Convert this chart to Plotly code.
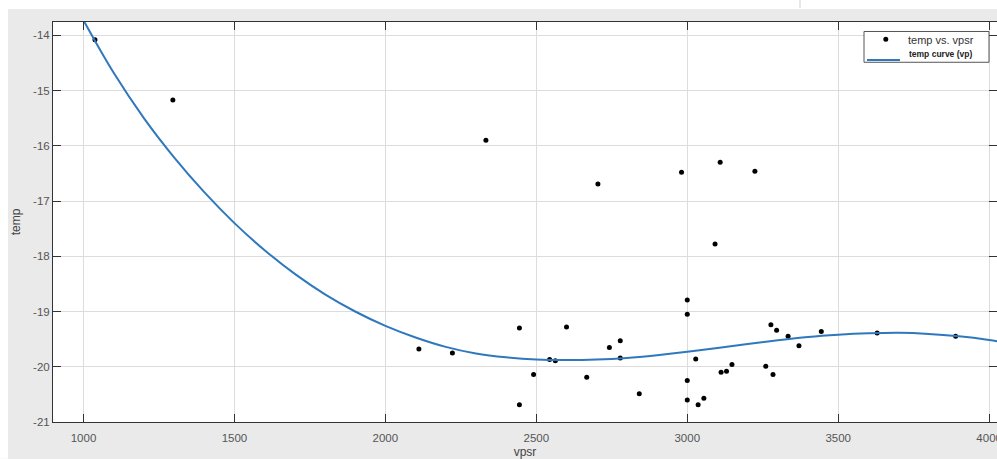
import plotly.graph_objects as go

# scatter data: temp vs. vpsr
vpsr = [1038, 1296, 2111, 2222, 2333, 2444, 2444, 2491, 2544, 2563, 2600, 2667, 2704, 2742,
        2778, 2778, 2841, 2981, 3000, 3000, 3000, 3000, 3028, 3036, 3055, 3092, 3109, 3112,
        3130, 3148, 3224, 3260, 3277, 3284, 3296, 3334, 3370, 3444, 3629, 3889]
temp = [-14.08, -15.17, -19.68, -19.75, -15.90, -19.30, -20.69, -20.14, -19.87, -19.89, -19.28,
        -20.19, -16.69, -19.65, -19.53, -19.84, -20.49, -16.48, -18.79, -19.05, -20.25, -20.60,
        -19.86, -20.69, -20.57, -17.78, -16.30, -20.10, -20.08, -19.96, -16.46, -19.99, -19.24,
        -20.14, -19.34, -19.45, -19.62, -19.36, -19.39, -19.45]

# fitted curve (temp curve (vp))
curve_x = [1000, 1100, 1200, 1300, 1400, 1500, 1600, 1700, 1800, 1900, 2000, 2100, 2200,
           2300, 2400, 2500, 2600, 2700, 2800, 2900, 3000, 3100, 3200, 3300, 3400, 3500,
           3600, 3700, 3800, 3900, 4000, 4030]
curve_y = [-13.73, -14.68, -15.50, -16.21, -16.84, -17.40, -17.89, -18.32, -18.69, -19.00,
           -19.26, -19.47, -19.64, -19.76, -19.83, -19.87, -19.88, -19.87, -19.84, -19.79,
           -19.73, -19.66, -19.59, -19.52, -19.46, -19.42, -19.395, -19.385, -19.405, -19.45,
           -19.515, -19.54]

x_ticks = [1000, 1500, 2000, 2500, 3000, 3500, 4000]
y_ticks = [-21, -20, -19, -18, -17, -16, -15, -14]

W, H = 997, 459
L, R, T, B = 53, 997, 22, 422.3
BLUE = "#2f78bd"

def px_x(p):
    return (p - L) / (R - L)

def px_y(p):
    return (B - p) / (B - T)

fig = go.Figure()
fig.add_trace(go.Scatter(x=vpsr, y=temp, mode="markers", name="temp vs. vpsr",
                         marker=dict(color="black", size=5), showlegend=False))
fig.add_trace(go.Scatter(x=curve_x, y=curve_y, mode="lines", name="temp curve (vp)",
                         line=dict(color=BLUE, width=2, shape="spline", smoothing=1),
                         showlegend=False))

axis_common = dict(showline=True, linecolor="#333333", linewidth=1, mirror="ticks",
                   ticks="inside", ticklen=8, tickcolor="#333333",
                   showgrid=True, gridcolor="#dcdcdc", gridwidth=1, zeroline=False,
                   ticklabeloverflow="allow",
                   tickfont=dict(family="Liberation Sans", size=11.5, color="#555555"))

fig.update_xaxes(range=[899, 4026], tickvals=x_ticks, ticktext=[str(v) for v in x_ticks],
                 ticklabelstandoff=5,
                 title=dict(text="vpsr", font=dict(family="Liberation Sans", size=12, color="#444444"),
                            standoff=5), **axis_common)
fig.update_yaxes(range=[-21, -13.76], tickvals=y_ticks, ticktext=[str(v) for v in y_ticks],
                 title=dict(text="temp", font=dict(family="Liberation Sans", size=12, color="#444444"),
                            standoff=9), **axis_common)

shapes = [
    # white strips outside the grey figure area
    dict(type="rect", xref="paper", yref="paper", x0=px_x(0), x1=px_x(W), y0=px_y(0), y1=px_y(9),
         fillcolor="white", line=dict(width=0), layer="below"),
    dict(type="rect", xref="paper", yref="paper", x0=px_x(0), x1=px_x(8), y0=px_y(0), y1=px_y(H),
         fillcolor="white", line=dict(width=0), layer="below"),
    dict(type="line", xref="paper", yref="paper", x0=px_x(800), x1=px_x(800), y0=px_y(0), y1=px_y(8),
         line=dict(color="#cfcfcf", width=1), layer="below"),
    # legend box
    dict(type="rect", xref="paper", yref="paper", x0=px_x(864), x1=px_x(989), y0=px_y(31.5), y1=px_y(62.3),
         fillcolor="white", line=dict(color="#555555", width=1), layer="above"),
    dict(type="circle", xref="paper", yref="paper", x0=px_x(883.3), x1=px_x(888.3), y0=px_y(41.8), y1=px_y(36.8),
         fillcolor="black", line=dict(width=0), layer="above"),
    dict(type="line", xref="paper", yref="paper", x0=px_x(867), x1=px_x(900), y0=px_y(60), y1=px_y(60),
         line=dict(color=BLUE, width=2), layer="above"),
]

annotations = [
    dict(xref="paper", yref="paper", x=px_x(906), y=px_y(40.5), xanchor="left", yanchor="middle",
         text="temp vs. vpsr", showarrow=False,
         font=dict(family="Liberation Sans", size=11, color="#333333")),
    dict(xref="paper", yref="paper", x=px_x(906.5), y=px_y(54), xanchor="left", yanchor="middle",
         text="<b>temp curve (vp)</b>", showarrow=False,
         font=dict(family="Liberation Sans", size=8.5, color="#222222")),
]

fig.update_layout(
    width=W, height=H,
    margin=dict(l=L, r=W - R, t=T, b=H - B, autoexpand=False),
    paper_bgcolor="#eaeaea", plot_bgcolor="white",
    showlegend=False,
    shapes=shapes, annotations=annotations,
)

fig.write_html("out.html")
